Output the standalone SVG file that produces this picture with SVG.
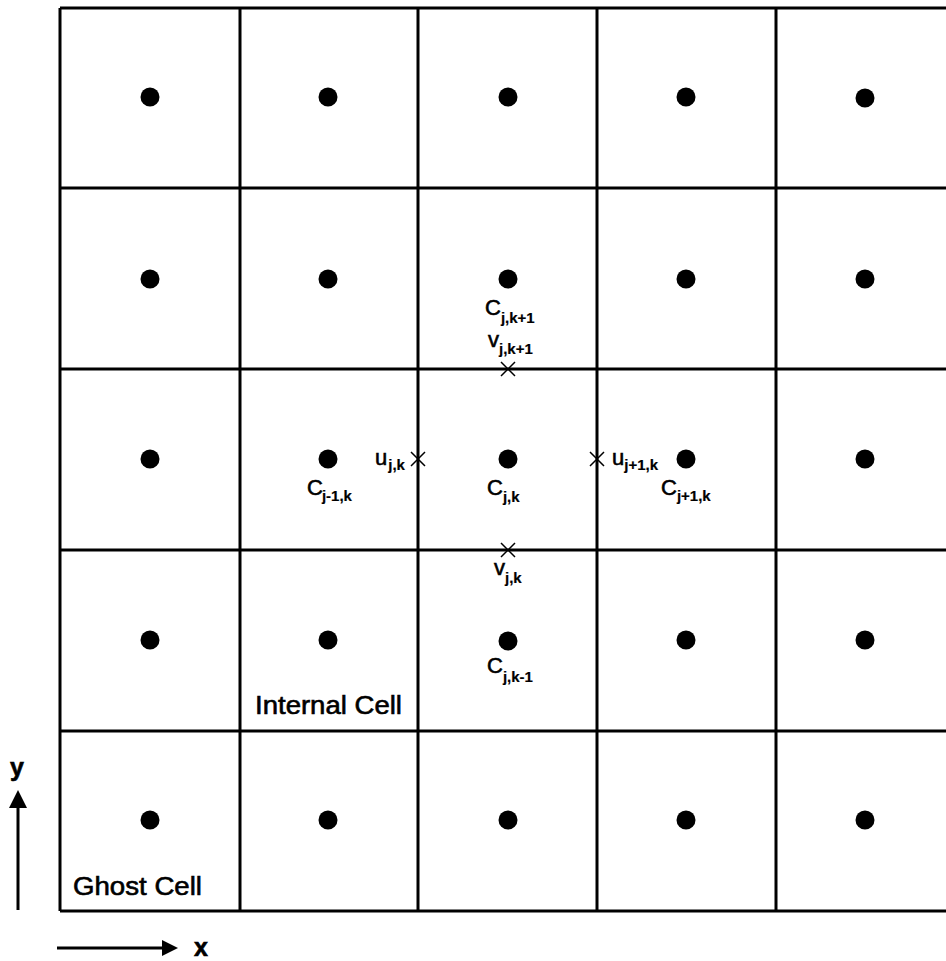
<svg xmlns="http://www.w3.org/2000/svg" width="946" height="961" viewBox="0 0 946 961">
<style>
.grid{stroke:#000;stroke-width:3;fill:none}
.dot{fill:#000}
.x{stroke:#000;stroke-width:1.5;fill:none}
.t{font-family:"Liberation Sans",Arial,sans-serif;font-size:22px;fill:#000;stroke:#000;stroke-width:0.6}
.s{font-size:15px;font-weight:bold;stroke-width:0.2}
.lbl{font-family:"Liberation Sans",Arial,sans-serif;font-size:25px;fill:#000;stroke:#000;stroke-width:0.6}
.ax{stroke:#000;stroke-width:3;fill:none}
</style>
<rect width="946" height="961" fill="#fff"/>
<g id="grid" class="grid">
<line x1="60" y1="8" x2="946" y2="8"/>
<line x1="60" y1="188" x2="946" y2="188"/>
<line x1="60" y1="369" x2="946" y2="369"/>
<line x1="60" y1="550" x2="946" y2="550"/>
<line x1="60" y1="731" x2="946" y2="731"/>
<line x1="60" y1="911" x2="946" y2="911"/>
<line x1="60" y1="8" x2="60" y2="911"/>
<line x1="240" y1="8" x2="240" y2="911"/>
<line x1="418" y1="8" x2="418" y2="911"/>
<line x1="597" y1="8" x2="597" y2="911"/>
<line x1="776" y1="8" x2="776" y2="911"/>
</g>
<g id="centers" class="dot">
<circle cx="150" cy="97" r="9.5"/><circle cx="328" cy="97" r="9.5"/><circle cx="508" cy="97" r="9.5"/><circle cx="686" cy="97" r="9.5"/><circle cx="865" cy="98" r="9.5"/>
<circle cx="150" cy="279" r="9.5"/><circle cx="328" cy="279" r="9.5"/><circle cx="508" cy="279" r="9.5"/><circle cx="686" cy="279" r="9.5"/><circle cx="865" cy="279" r="9.5"/>
<circle cx="150" cy="459" r="9.5"/><circle cx="328" cy="459" r="9.5"/><circle cx="508" cy="459" r="9.5"/><circle cx="686" cy="459" r="9.5"/><circle cx="865" cy="459" r="9.5"/>
<circle cx="150" cy="640" r="9.5"/><circle cx="328" cy="640" r="9.5"/><circle cx="508" cy="641" r="9.5"/><circle cx="686" cy="640" r="9.5"/><circle cx="865" cy="640" r="9.5"/>
<circle cx="150" cy="820" r="9.5"/><circle cx="328" cy="820" r="9.5"/><circle cx="508" cy="820" r="9.5"/><circle cx="686" cy="820" r="9.5"/><circle cx="865" cy="820" r="9.5"/>
</g>
<g id="faces" class="x">
<path d="M501,362 L515,376 M515,362 L501,376"/>
<path d="M411,452 L425,466 M425,452 L411,466"/>
<path d="M590,452 L604,466 M604,452 L590,466"/>
<path d="M501,543 L515,557 M515,543 L501,557"/>
</g>
<g id="labels" class="t">
<text x="485" y="315">C<tspan class="s" dy="8">j,k+1</tspan></text>
<text x="488" y="347">v<tspan class="s" dy="7">j,k+1</tspan></text>
<text x="375" y="465">u<tspan class="s" dy="5" dx="1">j,k</tspan></text>
<text x="307" y="495">C<tspan class="s" dy="6" dx="-1">j-1,k</tspan></text>
<text x="487" y="495">C<tspan class="s" dy="7">j,k</tspan></text>
<text x="612" y="465">u<tspan class="s" dy="5">j+1,k</tspan></text>
<text x="661" y="495">C<tspan class="s" dy="6">j+1,k</tspan></text>
<text x="494" y="575">v<tspan class="s" dy="8">j,k</tspan></text>
<text x="487" y="673">C<tspan class="s" dy="9">j,k-1</tspan></text>
</g>
<g id="cell-labels" class="lbl">
<text id="internal" x="255" y="714" textLength="147" lengthAdjust="spacingAndGlyphs">Internal Cell</text>
<text id="ghost" x="73" y="895" textLength="129" lengthAdjust="spacingAndGlyphs">Ghost Cell</text>
</g>
<g id="axes">
<line class="ax" x1="18" y1="910" x2="18" y2="804"/>
<path d="M9,808 L18,790 L27,808 Z" fill="#000"/>
<line class="ax" x1="57" y1="948" x2="165" y2="948"/>
<path d="M162,940 L178,948 L162,956 Z" fill="#000"/>
<text class="lbl" x="10" y="776" font-size="24" font-weight="bold" stroke-width="0.2">y</text>
<text class="lbl" x="194" y="956" font-size="24" font-weight="bold" stroke-width="0.2">x</text>
</g>
</svg>
